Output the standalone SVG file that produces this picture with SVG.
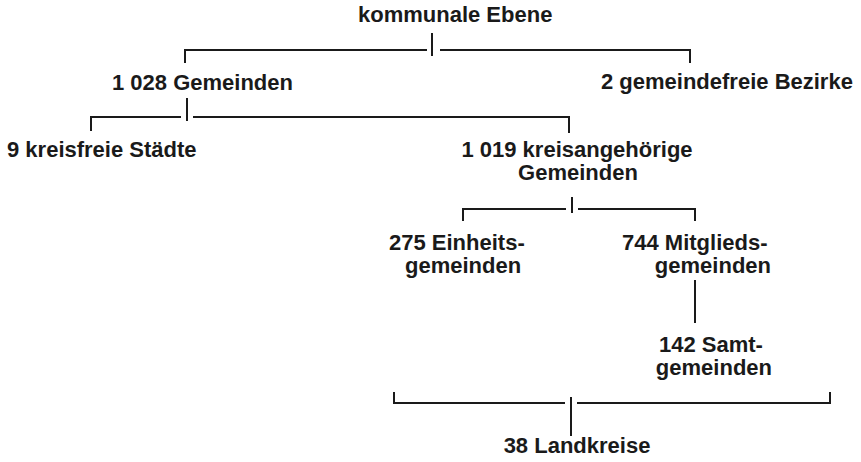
<svg xmlns="http://www.w3.org/2000/svg" width="861" height="462" viewBox="0 0 861 462">
<style>
text{font-family:"Liberation Sans",Arial,sans-serif;font-weight:bold;font-size:22px;fill:#1a1a1a}
.c{stroke:#1a1a1a;stroke-width:2;fill:none}
</style>
<rect width="861" height="462" fill="#fff"/>
<g id="connectors">
<path class="c" d="M185,63 V50 H427 M440,50 H690 V63 M432,33 V56"/>
<path class="c" d="M91,131 V117 H181 M193,117 H569 V133 M187,98 V121"/>
<path class="c" d="M463,221 V209 H566 M578,209 H695 V221 M572,197 V213"/>
<path class="c" d="M695,280 V323"/>
<path class="c" d="M394,392 V403 H565 M577,403 H830 V392 M571,397 V436"/>
</g>
<g id="n_kommunal"><text x="358" y="22">kommunale Ebene</text></g>
<g id="n_gemeinden"><text x="112" y="90">1 028 Gemeinden</text></g>
<g id="n_bezirke"><text x="601" y="89">2 gemeindefreie Bezirke</text></g>
<g id="n_staedte"><text x="7" y="157">9 kreisfreie Städte</text></g>
<g id="n_kreisang"><text x="577" y="157" text-anchor="middle">1 019 kreisangehörige</text><text x="578" y="180" text-anchor="middle">Gemeinden</text></g>
<g id="n_einheit"><text x="389" y="250">275 Einheits-</text><text x="405" y="273">gemeinden</text></g>
<g id="n_mitglied"><text x="622" y="250">744 Mitglieds-</text><text x="771" y="273" text-anchor="end">gemeinden</text></g>
<g id="n_samt"><text x="659" y="352">142 Samt-</text><text x="772" y="375" text-anchor="end">gemeinden</text></g>
<g id="n_landkreise"><text x="577" y="453" text-anchor="middle">38 Landkreise</text></g>
</svg>
